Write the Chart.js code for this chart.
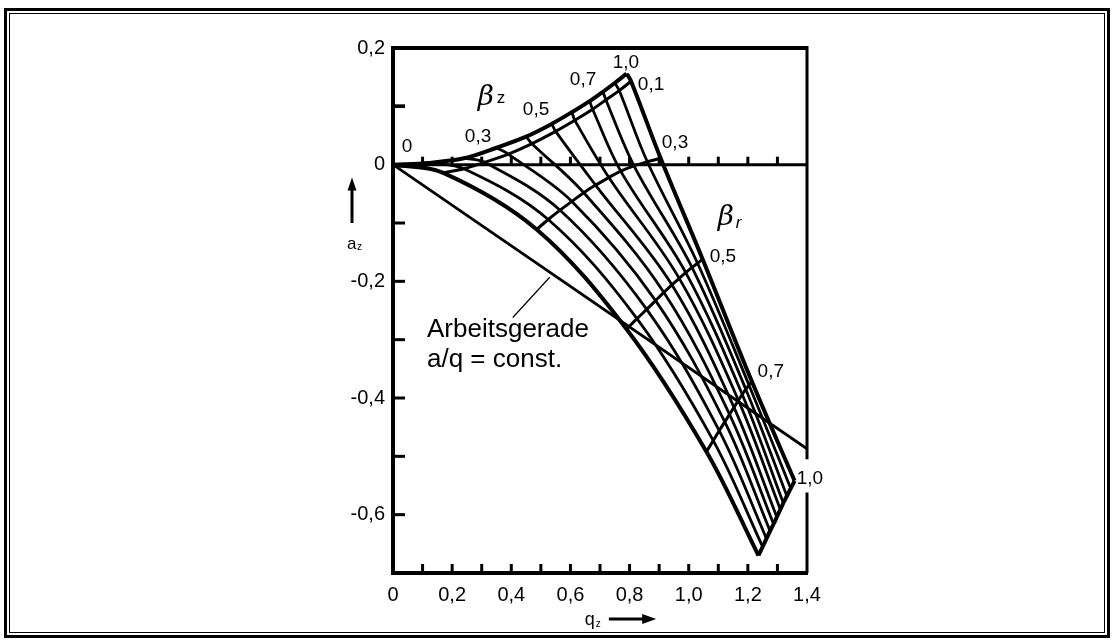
<!DOCTYPE html>
<html><head><meta charset="utf-8">
<script src="https://cdn.jsdelivr.net/npm/chart.js@4.4.1/dist/chart.umd.min.js"></script>
<style>html,body{margin:0;padding:0;background:#fff;}canvas{display:block;}</style>
</head><body>
<canvas id="c" width="1114" height="641"></canvas>
<script>
// parameter values of the nomogram
const betaZ = [0, 0.1, 0.2, 0.3, 0.4, 0.5, 0.6, 0.7, 0.8, 0.9, 1.0];
const betaRLevels = [0, 0.1, 0.3, 0.5, 0.7, 1.0];

// points (q_z, a_z) along each beta_r line, one per beta_z value
const r00_q = [0, 0.12, 0.24, 0.35, 0.45, 0.537, 0.605, 0.665, 0.71, 0.75, 0.79];
const r00_a = [0, 0.003, 0.011, 0.029, 0.048, 0.07, 0.09, 0.109, 0.125, 0.14, 0.156];
const r01_q = [0.17, 0.24, 0.31, 0.39, 0.47, 0.55, 0.615, 0.675, 0.72, 0.765, 0.805];
const r01_a = [-0.014, -0.007, 0.004, 0.018, 0.036, 0.057, 0.076, 0.095, 0.111, 0.127, 0.143];
const r03_q = [0.486, 0.525, 0.565, 0.605, 0.645, 0.685, 0.73, 0.77, 0.815, 0.86, 0.905];
const r03_a = [-0.111, -0.094, -0.078, -0.063, -0.048, -0.035, -0.022, -0.011, -0.002, 0.005, 0.011];
const r05_q = [0.79, 0.825, 0.858, 0.888, 0.916, 0.943, 0.968, 0.99, 1.011, 1.03, 1.047];
const r05_a = [-0.282, -0.264, -0.248, -0.233, -0.219, -0.206, -0.195, -0.185, -0.176, -0.169, -0.162];
const r07_q = [1.06, 1.083, 1.103, 1.122, 1.138, 1.153, 1.168, 1.181, 1.193, 1.204, 1.213];
const r07_a = [-0.492, -0.473, -0.456, -0.441, -0.428, -0.416, -0.404, -0.394, -0.385, -0.378, -0.371];
const r10_q = [1.236, 1.25, 1.263, 1.275, 1.287, 1.298, 1.31, 1.32, 1.332, 1.345, 1.358];
const r10_a = [-0.67, -0.655, -0.641, -0.628, -0.616, -0.604, -0.591, -0.58, -0.568, -0.555, -0.542];

// working line a/q = const.
const arbeitsQ = [0, 1.4];
const arbeitsA = [0, -0.487];
// pointer from the text to the working line
const pointerQ = [0.405, 0.53];
const pointerA = [-0.262, -0.193];

const xTickValues = [0, 0.2, 0.4, 0.6, 0.8, 1.0, 1.2, 1.4];
const yTickValues = [0.2, 0, -0.2, -0.4, -0.6];

// labels on the grid boundaries
const betaZLabels = ["0", "0,3", "0,5", "0,7", "1,0"];
const betaZLabelQ = [0.03, 0.243, 0.439, 0.598, 0.743];
const betaZLabelA = [0.021, 0.039, 0.085, 0.137, 0.166];
const betaRLabels = ["0,1", "0,3", "0,5", "0,7", "1,0"];
const betaRLabelQ = [0.828, 0.909, 1.071, 1.233, 1.365];
const betaRLabelA = [0.128, 0.029, -0.166, -0.364, -0.547];

const rowsQ = [r00_q, r01_q, r03_q, r05_q, r07_q, r10_q];
const rowsA = [r00_a, r01_a, r03_a, r05_a, r07_a, r10_a];

const fmt = v => { const r = Math.round(v * 10); if (r === 0) return "0"; return (r / 10).toFixed(1).replace('.', ','); };

const datasets = [];
rowsQ.forEach((qs, i) => {
  const edge = (i === 0 || i === rowsQ.length - 1);
  datasets.push({
    label: 'beta_r=' + betaRLevels[i],
    data: qs.map((q, k) => ({x: q, y: rowsA[i][k]})),
    borderColor: '#000', borderWidth: edge ? 4 : 3, pointRadius: 0, tension: 0.35, fill: false
  });
});
betaZ.forEach((bz, j) => {
  const edge = (j === 0 || j === betaZ.length - 1);
  datasets.push({
    label: 'beta_z=' + bz,
    data: rowsQ.map((qs, i) => ({x: qs[j], y: rowsA[i][j]})),
    borderColor: '#000', borderWidth: edge ? 4 : 2.8, pointRadius: 0, tension: 0.35, fill: false
  });
});
datasets.push({label: 'Arbeitsgerade', data: arbeitsQ.map((q, k) => ({x: q, y: arbeitsA[k]})),
  borderColor: '#000', borderWidth: 2.8, pointRadius: 0, tension: 0});
datasets.push({label: 'pointer', data: pointerQ.map((q, k) => ({x: q, y: pointerA[k]})),
  borderColor: '#000', borderWidth: 1.2, pointRadius: 0, tension: 0});

const deco = {
  id: 'deco',
  beforeDraw(chart) {
    const ctx = chart.ctx;
    ctx.save();
    ctx.fillStyle = '#fff'; ctx.fillRect(0, 0, chart.width, chart.height);
    ctx.strokeStyle = '#000';
    ctx.lineWidth = 3; ctx.strokeRect(5.5, 9.5, 1103, 627);
    ctx.lineWidth = 1; ctx.strokeRect(9.5, 13.5, 1095, 619);
    ctx.restore();
  },
  beforeDatasetsDraw(chart) {
    const {ctx, chartArea: ca, scales: {x, y}} = chart;
    ctx.save();
    ctx.strokeStyle = '#000';
    const y0 = y.getPixelForValue(0);
    ctx.lineWidth = 3;
    ctx.beginPath(); ctx.moveTo(ca.left, y0); ctx.lineTo(ca.right, y0); ctx.stroke();
    for (let k = 1; k <= 13; k++) {
      const px = x.getPixelForValue(k / 10);
      ctx.beginPath(); ctx.moveTo(px, y0); ctx.lineTo(px, y0 - 8); ctx.stroke();
      ctx.beginPath(); ctx.moveTo(px, ca.bottom); ctx.lineTo(px, ca.bottom - 9); ctx.stroke();
    }
    for (let k = 1; k <= 6; k++) {
      [-k / 10, 0.1].forEach(v => {
        const py = y.getPixelForValue(v);
        ctx.beginPath(); ctx.moveTo(ca.left, py); ctx.lineTo(ca.left + 12, py); ctx.stroke();
      });
    }
    ctx.restore();
  },
  afterDraw(chart) {
    const {ctx, chartArea: ca, scales: {x, y}} = chart;
    ctx.save();
    ctx.strokeStyle = '#000'; ctx.fillStyle = '#000';
    ctx.lineWidth = 4;
    ctx.beginPath(); ctx.moveTo(ca.left, ca.bottom); ctx.lineTo(ca.left, ca.top); ctx.lineTo(ca.right, ca.top); ctx.stroke();
    ctx.beginPath(); ctx.moveTo(ca.left - 2, ca.bottom); ctx.lineTo(ca.right + 1, ca.bottom); ctx.stroke();
    ctx.lineWidth = 3;
    ctx.beginPath(); ctx.moveTo(ca.right, ca.top - 2); ctx.lineTo(ca.right, y.getPixelForValue(-0.505)); ctx.stroke();
    ctx.beginPath(); ctx.moveTo(ca.right, y.getPixelForValue(-0.562)); ctx.lineTo(ca.right, ca.bottom); ctx.stroke();

    ctx.font = '19px "Liberation Sans", Arial, sans-serif';
    ctx.textAlign = 'left'; ctx.textBaseline = 'alphabetic';
    betaZLabels.forEach((t, i) => ctx.fillText(t, x.getPixelForValue(betaZLabelQ[i]), y.getPixelForValue(betaZLabelA[i])));
    betaRLabels.forEach((t, i) => ctx.fillText(t, x.getPixelForValue(betaRLabelQ[i]), y.getPixelForValue(betaRLabelA[i])));

    ctx.font = 'italic 28px "DejaVu Serif", serif';
    let bx = x.getPixelForValue(0.287), by = y.getPixelForValue(0.103);
    ctx.fillText('β', bx, by);
    ctx.font = '17px "Liberation Sans", Arial, sans-serif';
    ctx.fillText('z', bx + 19, by - 2);
    ctx.font = 'italic 28px "DejaVu Serif", serif';
    bx = x.getPixelForValue(1.098); by = y.getPixelForValue(-0.104);
    ctx.fillText('β', bx, by);
    ctx.font = 'italic 17px "Liberation Sans", Arial, sans-serif';
    ctx.fillText('r', bx + 18, by + 3);

    ctx.font = '26px "Liberation Sans", Arial, sans-serif';
    ctx.fillText('Arbeitsgerade', x.getPixelForValue(0.115), y.getPixelForValue(-0.296));
    ctx.fillText('a/q = const.', x.getPixelForValue(0.115), y.getPixelForValue(-0.347));

    const ax = ca.left - 41;
    ctx.font = '17px "Liberation Sans", Arial, sans-serif';
    ctx.fillText('a', ax - 5, y.getPixelForValue(-0.145));
    ctx.font = '10px "Liberation Sans", Arial, sans-serif';
    ctx.fillText('z', ax + 5, y.getPixelForValue(-0.147));
    ctx.lineWidth = 3;
    const ayTop = y.getPixelForValue(-0.022), ayBot = y.getPixelForValue(-0.1);
    ctx.beginPath(); ctx.moveTo(ax, ayBot); ctx.lineTo(ax, ayTop + 10); ctx.stroke();
    ctx.beginPath(); ctx.moveTo(ax, ayTop); ctx.lineTo(ax - 4.5, ayTop + 13); ctx.lineTo(ax + 4.5, ayTop + 13); ctx.closePath(); ctx.fill();

    const qx = x.getPixelForValue(0.655), qy = ca.bottom + 52;
    ctx.font = '18px "Liberation Sans", Arial, sans-serif';
    ctx.fillText('q', qx - 2, qy);
    ctx.font = '10px "Liberation Sans", Arial, sans-serif';
    ctx.fillText('z', qx + 9, qy + 2);
    const arL = x.getPixelForValue(0.73), arR = x.getPixelForValue(0.89), arY = qy - 6;
    ctx.lineWidth = 3;
    ctx.beginPath(); ctx.moveTo(arL, arY); ctx.lineTo(arR - 10, arY); ctx.stroke();
    ctx.beginPath(); ctx.moveTo(arR, arY); ctx.lineTo(arR - 14, arY - 5); ctx.lineTo(arR - 14, arY + 5); ctx.closePath(); ctx.fill();
    ctx.restore();
  }
};

new Chart(document.getElementById('c'), {
  type: 'scatter',
  data: {datasets},
  options: {
    responsive: false, animation: false,
    showLine: true,
    layout: {padding: {left: 0, right: 307, top: 48, bottom: 0}},
    plugins: {legend: {display: false}, tooltip: {enabled: false}},
    scales: {
      x: {
        type: 'linear', min: 0, max: 1.4,
        afterFit(s) { s.height = 68; },
        afterBuildTicks(s) { s.ticks = xTickValues.map(v => ({value: v})); },
        grid: {display: false, drawTicks: false}, border: {display: false},
        ticks: {color: '#000', padding: 10, font: {family: '"Liberation Sans", Arial, sans-serif', size: 20}, callback: v => fmt(v), maxRotation: 0}
      },
      y: {
        type: 'linear', min: -0.7, max: 0.2,
        afterFit(s) { s.width = 393; },
        afterBuildTicks(s) { s.ticks = yTickValues.map(v => ({value: v})); },
        grid: {display: false, drawTicks: false}, border: {display: false},
        ticks: {color: '#000', padding: 8, font: {family: '"Liberation Sans", Arial, sans-serif', size: 20}, callback: v => fmt(v)}
      }
    }
  },
  plugins: [deco]
});
</script>
</body></html>
